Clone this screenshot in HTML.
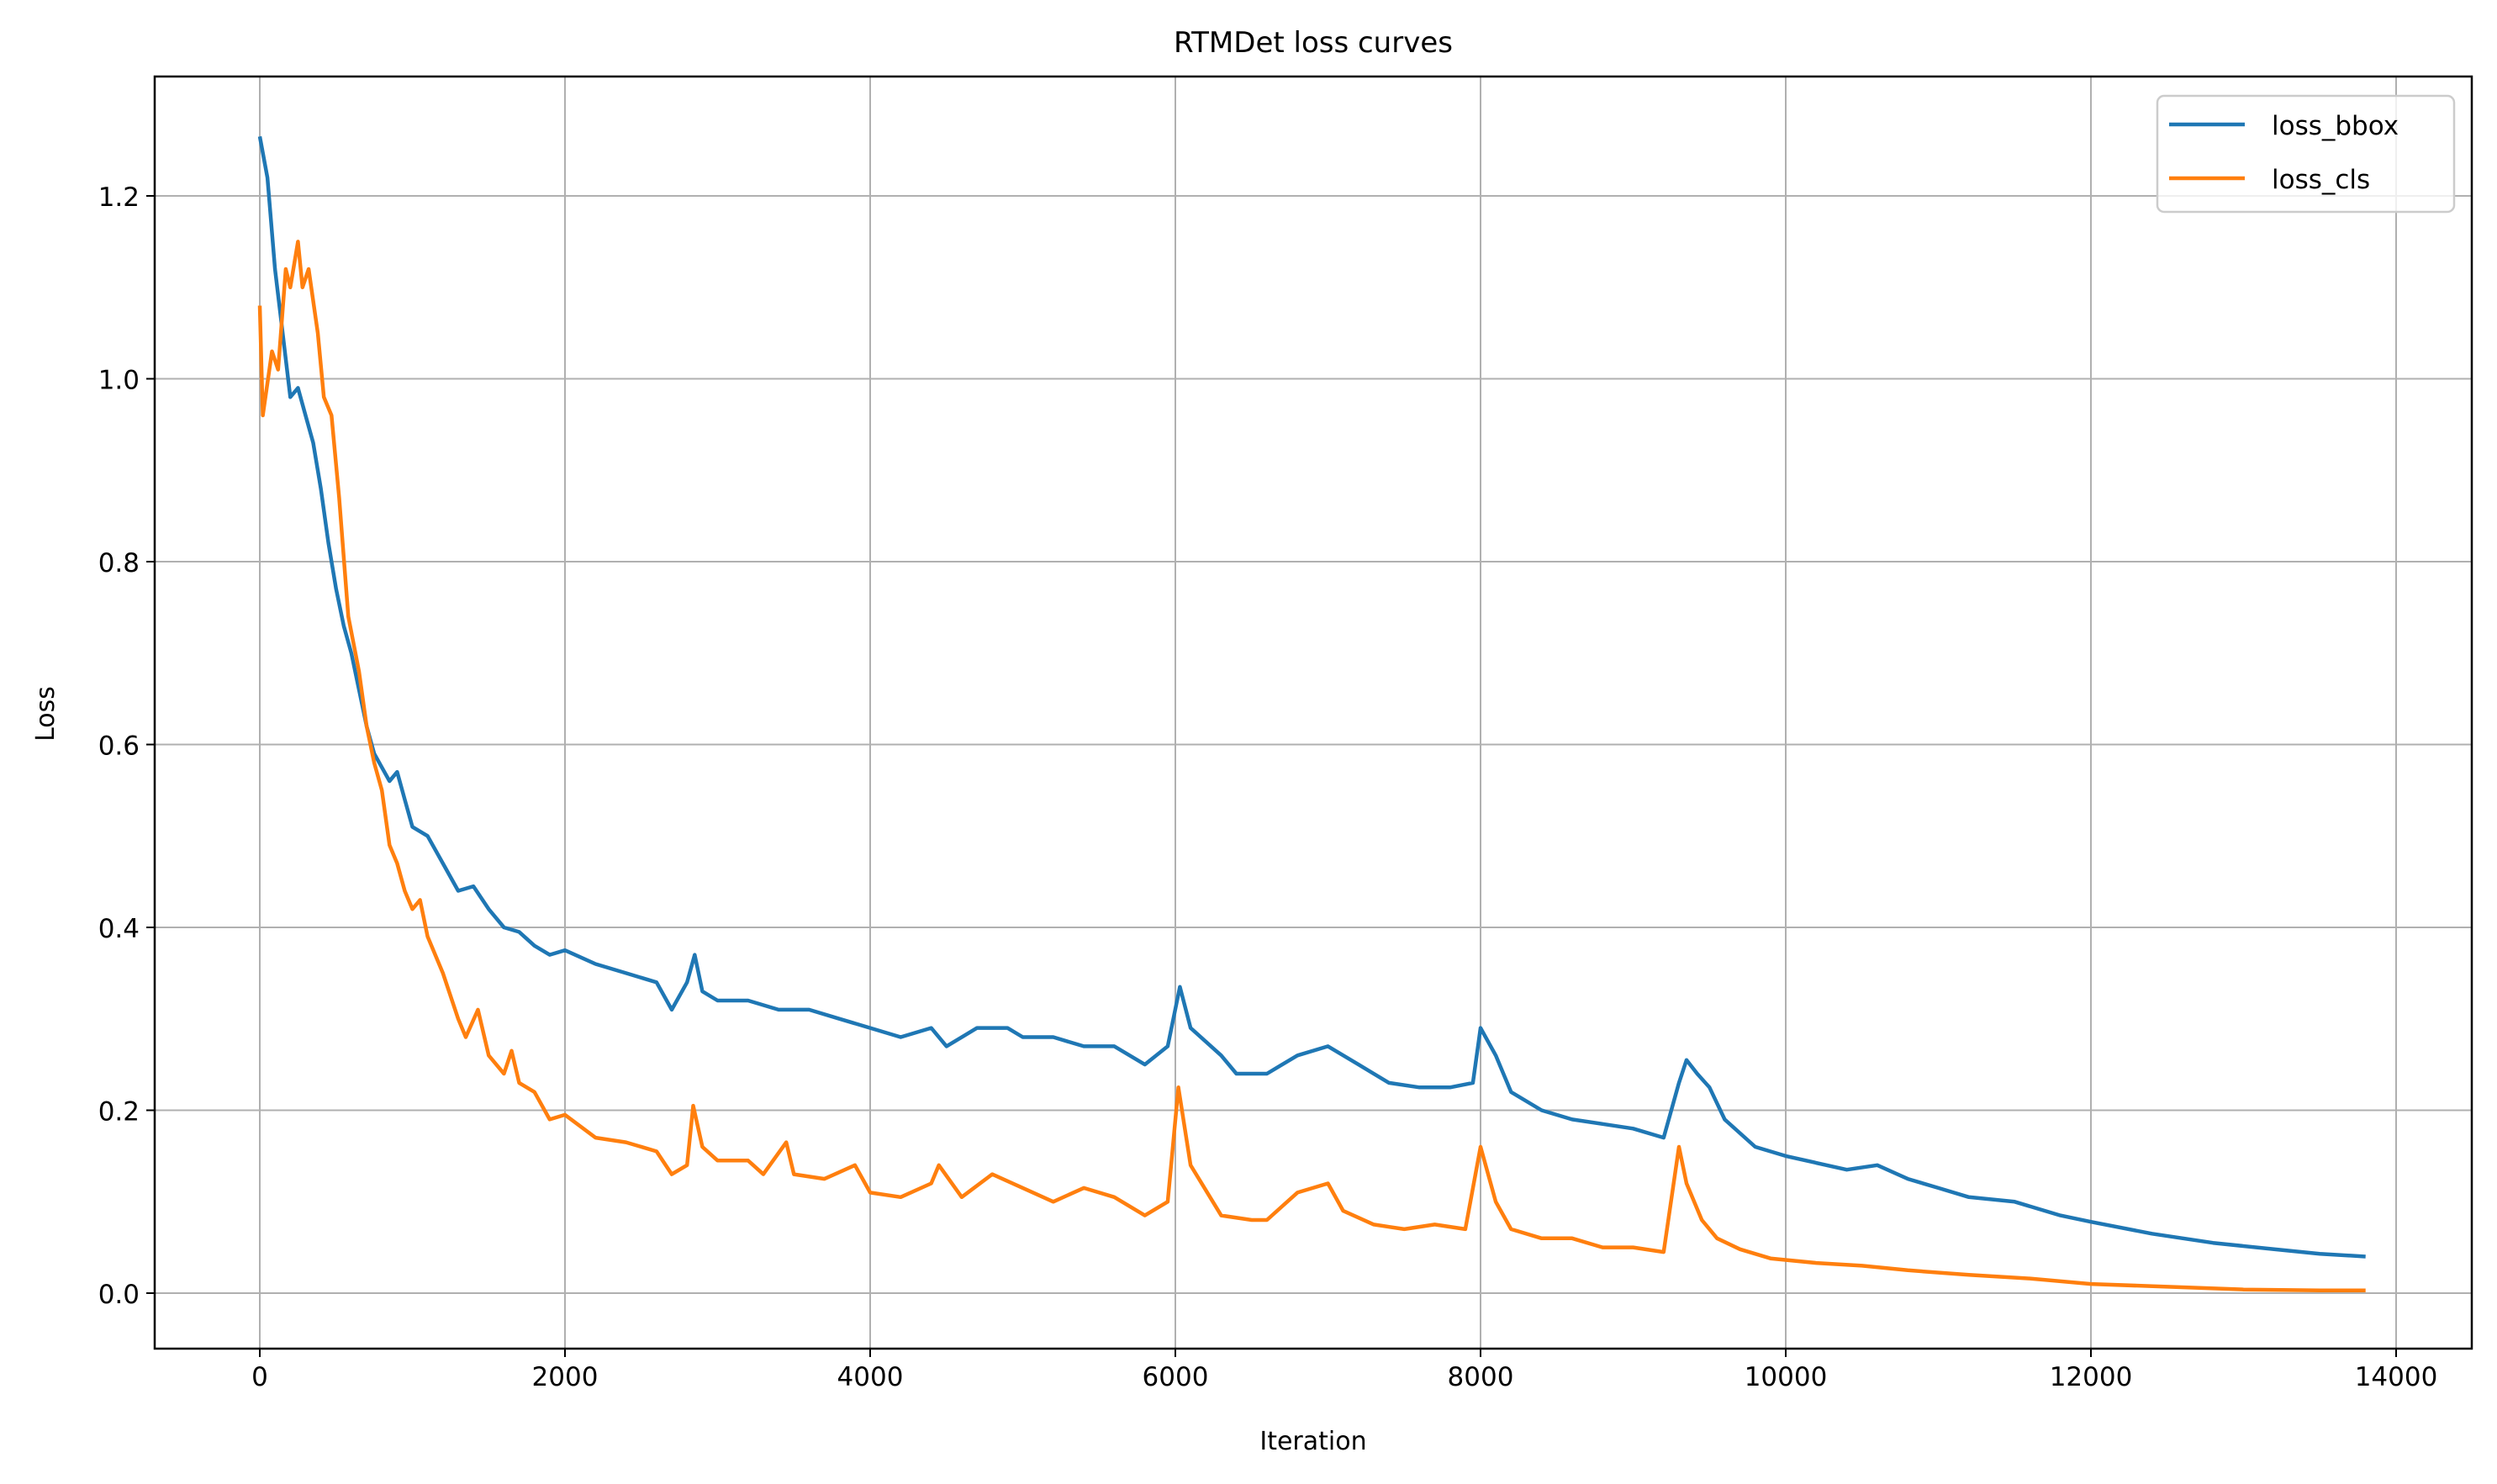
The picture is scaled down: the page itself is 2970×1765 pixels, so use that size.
<!DOCTYPE html>
<html><head><meta charset="utf-8"><style>html,body{margin:0;padding:0;background:#fff}svg{display:block}text{font-family:"DejaVu Sans","Liberation Sans",sans-serif;fill:#000}</style></head>
<body>
<svg id="chart" width="2970" height="1765" xmlns="http://www.w3.org/2000/svg">
<rect width="2970" height="1765" fill="#fff"/>
<g id="grid"></g>
<g id="series"></g>
<rect x="184" y="91" width="2756" height="1513" fill="none" stroke="#000" stroke-width="2.5"/>
<g id="ticks"></g>
<text x="1562" y="62" font-size="34" text-anchor="middle">RTMDet loss curves</text>
<text x="1562" y="1724" font-size="30" text-anchor="middle">Iteration</text>
<text x="64" y="849" font-size="30" text-anchor="middle" transform="rotate(-90 64 849)">Loss</text>
<g>
<rect x="2566" y="114" width="353" height="138" rx="8" fill="#fff" fill-opacity="0.8" stroke="#ccc" stroke-width="2.5"/>
<line x1="2580" y1="148" x2="2670" y2="148" stroke="#1f77b4" stroke-width="4.5"/>
<text x="2702" y="160" font-size="31">loss_bbox</text>
<line x1="2580" y1="212" x2="2670" y2="212" stroke="#ff7f0e" stroke-width="4.5"/>
<text x="2702" y="224" font-size="31">loss_cls</text>
</g>
</svg>
<script>
const xTicks=[0,2000,4000,6000,8000,10000,12000,14000];
const yTicks=[0.0,0.2,0.4,0.6,0.8,1.0,1.2];
const bboxIter=[0,50,100,150,200,250,300,350,400,450,500,550,600,650,700,750,800,850,900,950,1000,1100,1200,1300,1400,1500,1600,1700,1800,1900,2000,2200,2400,2600,2700,2800,2850,2900,3000,3200,3400,3600,3800,4000,4200,4400,4500,4700,4900,5000,5200,5400,5600,5800,5950,6030,6100,6300,6400,6600,6800,7000,7200,7400,7600,7800,7950,8000,8100,8200,8400,8600,8800,9000,9200,9300,9350,9420,9500,9600,9800,10000,10400,10600,10800,11000,11200,11500,11800,12000,12400,12800,13200,13500,13800];
const bboxLoss=[1.265,1.22,1.12,1.05,0.98,0.99,0.96,0.93,0.88,0.82,0.77,0.73,0.70,0.66,0.62,0.59,0.575,0.56,0.57,0.54,0.51,0.50,0.47,0.44,0.445,0.42,0.40,0.395,0.38,0.37,0.375,0.36,0.35,0.34,0.31,0.34,0.37,0.33,0.32,0.32,0.31,0.31,0.30,0.29,0.28,0.29,0.27,0.29,0.29,0.28,0.28,0.27,0.27,0.25,0.27,0.335,0.29,0.26,0.24,0.24,0.26,0.27,0.25,0.23,0.225,0.225,0.23,0.29,0.26,0.22,0.20,0.19,0.185,0.18,0.17,0.23,0.255,0.24,0.225,0.19,0.16,0.15,0.135,0.14,0.125,0.115,0.105,0.10,0.085,0.078,0.065,0.055,0.048,0.043,0.04];
const clsIter=[0,20,80,120,170,200,250,280,320,380,420,470,520,580,650,700,750,800,850,900,950,1000,1050,1100,1200,1300,1350,1430,1500,1600,1650,1700,1800,1900,2000,2200,2400,2600,2700,2800,2840,2900,3000,3200,3300,3450,3500,3700,3900,4000,4200,4400,4450,4600,4800,5000,5200,5400,5600,5800,5950,6020,6100,6300,6500,6600,6800,7000,7100,7300,7500,7700,7900,8000,8100,8200,8400,8600,8800,9000,9200,9300,9350,9450,9550,9700,9900,10200,10500,10800,11200,11600,12000,12500,13000,13500,13800];
const clsLoss=[1.08,0.96,1.03,1.01,1.12,1.10,1.15,1.10,1.12,1.05,0.98,0.96,0.87,0.74,0.68,0.62,0.58,0.55,0.49,0.47,0.44,0.42,0.43,0.39,0.35,0.30,0.28,0.31,0.26,0.24,0.265,0.23,0.22,0.19,0.195,0.17,0.165,0.155,0.13,0.14,0.205,0.16,0.145,0.145,0.13,0.165,0.13,0.125,0.14,0.11,0.105,0.12,0.14,0.105,0.13,0.115,0.10,0.115,0.105,0.085,0.10,0.225,0.14,0.085,0.08,0.08,0.11,0.12,0.09,0.075,0.07,0.075,0.07,0.16,0.10,0.07,0.06,0.06,0.05,0.05,0.045,0.16,0.12,0.08,0.06,0.048,0.038,0.033,0.03,0.025,0.02,0.016,0.01,0.007,0.004,0.003,0.003];
const NS='http://www.w3.org/2000/svg';
const L=184,R=2940,T=91,B=1604;
function xs(v){return 309+(v/2000)*363;}
function ys(v){return 1538-(v/0.2)*217.5;}
const grid=document.getElementById('grid'),ticks=document.getElementById('ticks'),series=document.getElementById('series');
function mk(tag,attrs,parent){const e=document.createElementNS(NS,tag);for(const k in attrs)e.setAttribute(k,attrs[k]);parent.appendChild(e);return e;}
xTicks.forEach(t=>{const x=xs(t);
 const g=mk('line',{x1:x,y1:T,x2:x,y2:B,stroke:'#b0b0b0','stroke-width':2},grid);
 
 
 const tk=mk('line',{x1:x,y1:B,x2:x,y2:B+10,stroke:'#000','stroke-width':2},ticks);
 
 
 const tx=mk('text',{x:x,y:B+44,'font-size':31,'text-anchor':'middle'},ticks);tx.textContent=String(t);
 
 
});
yTicks.forEach(t=>{const y=ys(t);
 const g=mk('line',{x1:L,y1:y,x2:R,y2:y,stroke:'#b0b0b0','stroke-width':2},grid);
 
 
 const tk=mk('line',{x1:L-10,y1:y,x2:L,y2:y,stroke:'#000','stroke-width':2},ticks);
 
 
 const tx=mk('text',{x:L-18,y:y+12,'font-size':31,'text-anchor':'end'},ticks);tx.textContent=t.toFixed(1);
 
 
});
function line(xv,yv,color,name){
 const d=xv.map((v,i)=>(i?'L':'M')+xs(v).toFixed(1)+','+ys(yv[i]).toFixed(1)).join('');
 const p=mk('path',{d:d,fill:'none',stroke:color,'stroke-width':4.5,'stroke-linejoin':'round'},series);
 
 
}
line(bboxIter,bboxLoss,'#1f77b4','loss-bbox-line');
line(clsIter,clsLoss,'#ff7f0e','loss-cls-line');
</script>
</body></html>
